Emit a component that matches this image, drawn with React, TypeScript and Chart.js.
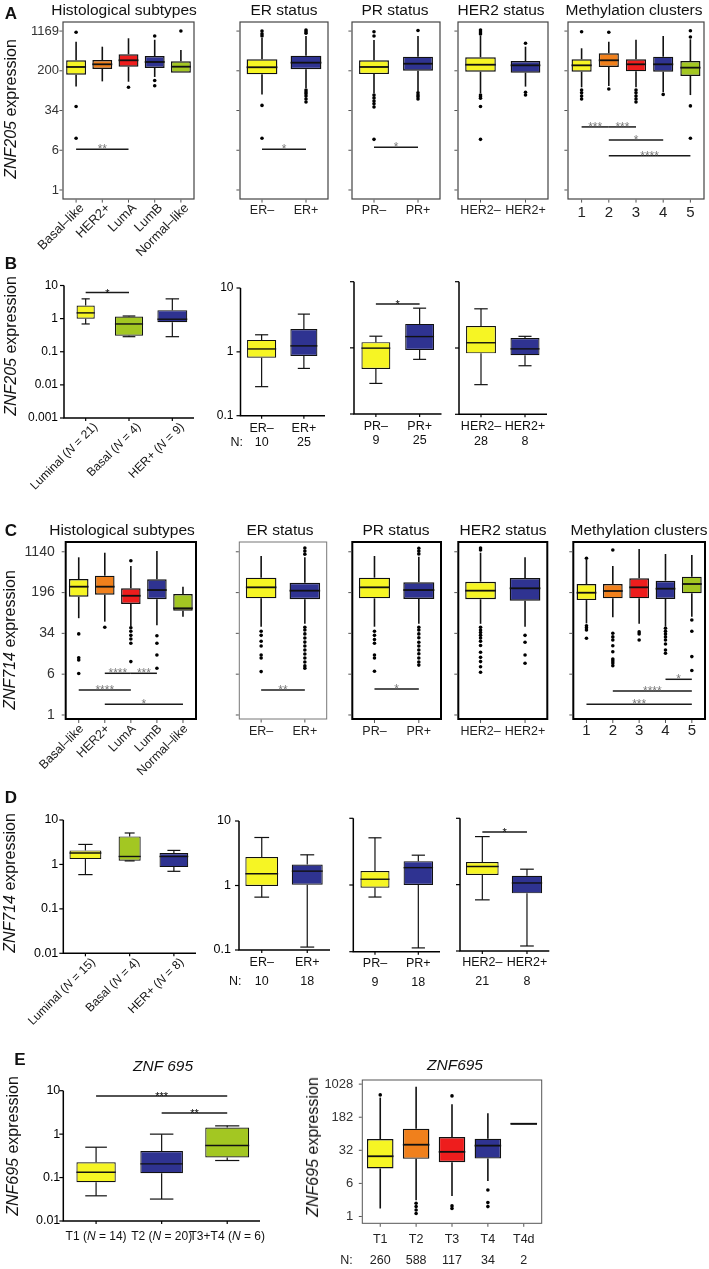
import React, { useEffect, useRef } from 'react';
import { Chart, registerables } from 'chart.js';

Chart.register(...registerables);

const FONT = "'Liberation Sans', Arial, Helvetica, sans-serif";

const YELLOW = '#F6F524';
const ORANGE = '#F0801C';
const RED = '#EE1D1D';
const BLUE = '#2F3391';
const GREEN = '#A3C722';

// ---------------- DATA ----------------
// stats = [min, q1, median, q3, max]
const erCategories = ['ER–', 'ER+'];
const prCategories = ['PR–', 'PR+'];
const her2Categories = ['HER2–', 'HER2+'];
const methCategories = ['1', '2', '3', '4', '5'];
const histCategories = ['Basal–like', 'HER2+', 'LumA', 'LumB', 'Normal–like'];

// A: ZNF205 (TCGA)
const aTicks = [1, 5.85, 34.2, 200, 1169];
const aTickLabels = ['1', '6', '34', '200', '1169'];
const aHistStats = [[99, 168, 237, 319, 729], [125, 217, 267, 323, 584], [123, 240, 319, 417, 849], [152, 227, 296, 386, 794], [184, 184, 240, 305, 505]];
const aHistOutliers = [[1107, 41, 10], [], [96], [940, 130, 103], [1170]];
const aHistSig = [{ from: 0, to: 2, y: 6.1, label: '**' }];
const aErStats = [[70, 171, 234, 334, 860], [93, 214, 287, 392, 940]];
const aErOutliers = [[1170, 1030, 940, 43, 10], [1220, 1140, 1060, 85, 78, 72, 65, 57, 50]];
const aErSig = [{ from: 0, to: 1, y: 6.1, label: '*' }];
const aPrStats = [[74, 173, 237, 319, 787], [79, 201, 274, 374, 940]];
const aPrOutliers = [[1137, 940, 68, 60, 52, 46, 40, 9.5], [1200, 75, 68, 63, 57]];
const aPrSig = [{ from: 0, to: 1, y: 6.7, label: '*' }];
const aHer2Stats = [[74, 192, 262, 365, 953], [99, 184, 255, 309, 584]];
const aHer2Outliers = [[1220, 1120, 1030, 68, 63, 59, 41, 9.5], [679, 77, 68]];
const aMethStats = [[96, 192, 255, 334, 544], [102, 237, 319, 436, 729], [96, 195, 267, 334, 794], [78, 192, 267, 374, 940], [68, 159, 230, 309, 811]];
const aMethOutliers = [[1137, 85, 75, 65, 57], [1107, 89], [85, 75, 65, 57, 50], [70], [1190, 900, 42, 10]];
const aMethSig = [
  { from: 0, to: 1, y: 16.5, label: '***' },
  { from: 1, to: 2, y: 16.5, label: '***' },
  { from: 1, to: 3, y: 9.2, label: '*' },
  { from: 1, to: 4, y: 4.6, label: '****' },
];

// B: ZNF205 (cohort)
const logTicks5 = [0.001, 0.01, 0.1, 1, 10];
const logTickLabels5 = ['0.001', '0.01', '0.1', '1', '10'];
const logTicks4 = [0.01, 0.1, 1, 10];
const logTickLabels4 = ['0.01', '0.1', '1', '10'];
const logTicks3 = [0.1, 1, 10];
const logTickLabels3 = ['0.1', '1', '10'];
const bSubtypeCategories = ['Luminal (_N_ = 21)', 'Basal (_N_ = 4)', 'HER+ (_N_ = 9)'];
const bSubtypeStats = [[0.69, 1.0, 1.49, 2.48, 3.95], [0.285, 0.305, 0.69, 1.15, 1.2], [0.285, 0.78, 0.96, 1.8, 3.95]];
const bSubtypeSig = [{ from: 0, to: 1, y: 6.1, label: '*' }];
const bErStats = [[0.285, 0.81, 1.11, 1.54, 1.85], [0.55, 0.86, 1.24, 2.27, 3.9]];
const bErN = [10, 25];
const bPrStats = [[0.29, 0.48, 0.99, 1.22, 1.5], [0.67, 0.93, 1.48, 2.3, 3.98]];
const bPrN = [9, 25];
const bPrSig = [{ from: 0, to: 1, y: 4.6, label: '*' }];
const bHer2Stats = [[0.28, 0.83, 1.2, 2.15, 3.9], [0.54, 0.78, 0.97, 1.41, 1.5]];
const bHer2N = [28, 8];

// C: ZNF714 (TCGA)
const cTicks = [1, 5.81, 33.8, 196, 1140];
const cTickLabels = ['1', '6', '34', '196', '1140'];
const cHistStats = [[65, 164, 253, 352, 898], [56, 179, 253, 406, 1094], [45, 120, 171, 236, 617], [48, 147, 219, 348, 1178], [69, 90, 99.6, 184, 253]];
const cHistOutliers = [[33, 11.8, 10.7, 6.0], [44], [776, 43, 37, 31, 26.5, 22, 10], [30.5, 22, 13.3, 7.5], []];
const cHistSig = [
  { from: 1, to: 2, y: 6.04, label: '****' },
  { from: 2, to: 3, y: 6.04, label: '***' },
  { from: 0, to: 2, y: 2.94, label: '****' },
  { from: 1, to: 4, y: 1.585, label: '*' },
];
const cErStats = [[45, 153, 246, 373, 950], [51, 147, 213, 300, 898]];
const cErOutliers = [[37, 31, 24, 19.6, 13.3, 11.7, 6.5], [1340, 1178, 1030, 44, 39, 33, 27.7, 23.2, 19.6, 16.5, 13.9, 11.7, 9.8, 8.3, 7.5]];
const cErSig = [{ from: 0, to: 1, y: 2.94, label: '**' }];
const cPrStats = [[45, 153, 246, 373, 950], [51, 149, 219, 305, 922]];
const cPrOutliers = [[37, 31, 26, 22, 13.3, 11.7, 6.6], [1330, 1180, 1040, 44, 39, 33, 28, 23, 19.6, 16.5, 14, 11.7, 9.8, 8.6]];
const cPrSig = [{ from: 0, to: 1, y: 3.07, label: '*' }];
const cHer2Stats = [[51, 147, 213, 313, 1094], [45, 138, 236, 368, 898]];
const cHer2Outliers = [[1340, 1230, 44, 39, 35, 31, 27.7, 24, 20, 15, 12, 10, 8, 6.3], [31, 23, 13.3, 9.3]];
const cMethStats = [[52, 142, 195, 284, 800], [67.6, 153, 210, 284, 617], [51, 153, 246, 363, 1284], [45, 149, 232, 327, 1035], [69, 190, 284, 389, 991]];
const cMethOutliers = [[860, 47, 43, 39, 27.3], [1230, 34, 29, 25.4, 19.8, 15.3, 11.2, 10.3, 9.4, 8.4], [36, 33, 25.4], [42, 37, 33, 29, 25.4, 21.3, 16.5, 14.3], [60, 37, 12.4, 6.8]];
const cMethSig = [
  { from: 3, to: 4, y: 4.66, label: '*' },
  { from: 1, to: 4, y: 2.81, label: '****' },
  { from: 0, to: 4, y: 1.585, label: '***' },
];

// D: ZNF714 (cohort)
const dSubtypeCategories = ['Luminal (_N_ = 15)', 'Basal (_N_ = 4)', 'HER+ (_N_ = 8)'];
const dSubtypeStats = [[0.59, 1.32, 1.81, 2.07, 2.82], [1.2, 1.21, 1.51, 4.27, 5.1], [0.7, 0.87, 1.51, 1.81, 2.07]];
const dErStats = [[0.66, 0.98, 1.52, 2.76, 5.55], [0.111, 1.03, 1.67, 2.12, 2.99]];
const dErN = [10, 18];
const dPrStats = [[0.66, 0.91, 1.22, 1.62, 5.1], [0.114, 1.0, 1.82, 2.28, 2.8]];
const dPrN = [9, 18];
const dHer2Stats = [[0.59, 1.4, 1.88, 2.2, 5.3], [0.119, 0.74, 1.06, 1.36, 1.71]];
const dHer2N = [21, 8];
const dHer2Sig = [{ from: 0, to: 1, y: 6.2, label: '*' }];

// E: ZNF695
const eStageCategories = ['T1 (_N_ = 14)', 'T2 (_N_ = 20)', 'T3+T4 (_N_ = 6)'];
const eStageStats = [[0.038, 0.078, 0.133, 0.226, 0.5], [0.032, 0.126, 0.207, 0.41, 1.0], [0.247, 0.289, 0.546, 1.42, 1.55]];
const eStageSig = [{ from: 0, to: 2, y: 7.6, label: '***' }, { from: 1, to: 2, y: 3.05, label: '**' }];
const eTcgaCategories = ['T1', 'T2', 'T3', 'T4', 'T4d'];
const eTcgaStats = [[1.52, 12.4, 23.5, 58, 508], [2.34, 20.5, 43, 99.5, 901], [2.92, 17.2, 29.6, 64.5, 360], [6.4, 20.8, 41, 59, 225], [123, 123, 129, 135, 135]];
const eTcgaOutliers = [[585], [2.0, 1.68, 1.41, 1.17], [555, 1.74, 1.52], [4.0, 2.07, 1.68], []];
const eTcgaN = [260, 588, 117, 34, 2];
const eTicks = [1, 5.66, 32.1, 181.5, 1028];
const eTickLabels = ['1', '6', '32', '182', '1028'];

// ---------------- PANEL LAYOUT / STYLE ----------------
type Sig = { from: number; to: number; y: number; label: string };
type Panel = {
  id: string;
  rect: number[];
  yMin: number;
  yMax: number;
  ticks: number[];
  tickLabels: string[] | null;
  categories: string[];
  stats: number[][];
  outliers?: number[][];
  nValues?: number[];
  sig?: Sig[];
  colors: string[];
  widths: number[];
  kind: 'gg' | 'sp';
  frameColor?: string;
  frameWidth?: number;
  xMode?: 'plain' | 'rotated';
  xLabelSize?: number;
  xLabelDy?: number;
  rotDx?: number;
  rotDy?: number;
  tickLabelSize?: number;
  tickLabelGap?: number;
  nDy?: number;
  nDx?: number;
  capFrac?: number;
};

const fill = (n: number, v: number) => Array.from({ length: n }, () => v);
const A_MIN = 0.67, A_MAX = 1750;
const C_MIN = 0.841, C_MAX = 1738;

const panels: Panel[] = [
  // Row A
  { id: 'a1', rect: [63, 22, 194, 199], yMin: A_MIN, yMax: A_MAX, ticks: aTicks, tickLabels: aTickLabels, categories: histCategories, stats: aHistStats, outliers: aHistOutliers, sig: aHistSig, colors: [YELLOW, ORANGE, RED, BLUE, GREEN], widths: fill(5, 0.76), kind: 'gg', xMode: 'rotated', rotDx: 6, rotDy: 7, xLabelSize: 13, tickLabelSize: 13, tickLabelGap: 4 },
  { id: 'a2', rect: [240, 22, 328, 199], yMin: A_MIN, yMax: A_MAX, ticks: aTicks, tickLabels: null, categories: erCategories, stats: aErStats, outliers: aErOutliers, sig: aErSig, colors: [YELLOW, BLUE], widths: [0.7, 0.7], kind: 'gg', xLabelDy: 12 },
  { id: 'a3', rect: [352, 22, 440, 199], yMin: A_MIN, yMax: A_MAX, ticks: aTicks, tickLabels: null, categories: prCategories, stats: aPrStats, outliers: aPrOutliers, sig: aPrSig, colors: [YELLOW, BLUE], widths: [0.68, 0.68], kind: 'gg', xLabelDy: 12 },
  { id: 'a4', rect: [458, 22, 548, 199], yMin: A_MIN, yMax: A_MAX, ticks: aTicks, tickLabels: null, categories: her2Categories, stats: aHer2Stats, outliers: aHer2Outliers, colors: [YELLOW, BLUE], widths: [0.68, 0.66], kind: 'gg', xLabelDy: 12 },
  { id: 'a5', rect: [568, 22, 704, 199], yMin: A_MIN, yMax: A_MAX, ticks: aTicks, tickLabels: null, categories: methCategories, stats: aMethStats, outliers: aMethOutliers, sig: aMethSig, colors: [YELLOW, ORANGE, RED, BLUE, GREEN], widths: fill(5, 0.74), kind: 'gg', xLabelSize: 15, xLabelDy: 14 },
  // Row B
  { id: 'b1', rect: [64, 285.5, 194, 418], yMin: 0.001, yMax: 10, ticks: logTicks5, tickLabels: logTickLabels5, categories: bSubtypeCategories, stats: bSubtypeStats, sig: bSubtypeSig, colors: [YELLOW, GREEN, BLUE], widths: [0.42, 0.65, 0.69], kind: 'sp', xMode: 'rotated', rotDx: 10, rotDy: 7, xLabelSize: 12, tickLabelSize: 12, tickLabelGap: 6 },
  { id: 'b2', rect: [240.5, 288, 325, 415.7], yMin: 0.1, yMax: 10, ticks: logTicks3, tickLabels: logTickLabels3, categories: erCategories, stats: bErStats, nValues: bErN, colors: [YELLOW, BLUE], widths: [0.69, 0.64], kind: 'sp', tickLabelSize: 12, tickLabelGap: 7, xLabelDy: 12.5, nDy: 27, nDx: -10 },
  { id: 'b3', rect: [354, 281.7, 441.5, 414], yMin: 0.1, yMax: 10, ticks: logTicks3, tickLabels: null, categories: prCategories, stats: bPrStats, nValues: bPrN, sig: bPrSig, colors: [YELLOW, BLUE], widths: [0.66, 0.66], kind: 'sp', xLabelDy: 12.5, nDy: 27 },
  { id: 'b4', rect: [459, 281.7, 547, 414.3], yMin: 0.1, yMax: 10, ticks: logTicks3, tickLabels: null, categories: her2Categories, stats: bHer2Stats, nValues: bHer2N, colors: [YELLOW, BLUE], widths: [0.68, 0.66], kind: 'sp', xLabelDy: 12.5, nDy: 27 },
  // Row C
  { id: 'c1', rect: [65.7, 542, 196, 719], yMin: C_MIN, yMax: C_MAX, ticks: cTicks, tickLabels: cTickLabels, categories: histCategories, stats: cHistStats, outliers: cHistOutliers, sig: cHistSig, colors: [YELLOW, ORANGE, RED, BLUE, GREEN], widths: fill(5, 0.75), kind: 'gg', frameColor: '#000', frameWidth: 2, xMode: 'rotated', rotDx: 3, rotDy: 8, xLabelSize: 12.5, tickLabelSize: 14, tickLabelGap: 11 },
  { id: 'c2', rect: [239.3, 542, 326.7, 719], yMin: C_MIN, yMax: C_MAX, ticks: cTicks, tickLabels: null, categories: erCategories, stats: cErStats, outliers: cErOutliers, sig: cErSig, colors: [YELLOW, BLUE], widths: [0.7, 0.7], kind: 'gg', frameColor: '#777', frameWidth: 1, xLabelDy: 13 },
  { id: 'c3', rect: [352.3, 542, 441, 719], yMin: C_MIN, yMax: C_MAX, ticks: cTicks, tickLabels: null, categories: prCategories, stats: cPrStats, outliers: cPrOutliers, sig: cPrSig, colors: [YELLOW, BLUE], widths: [0.7, 0.7], kind: 'gg', frameColor: '#000', frameWidth: 2, xLabelDy: 13 },
  { id: 'c4', rect: [458.3, 542, 547.3, 719], yMin: C_MIN, yMax: C_MAX, ticks: cTicks, tickLabels: null, categories: her2Categories, stats: cHer2Stats, outliers: cHer2Outliers, colors: [YELLOW, BLUE], widths: [0.69, 0.69], kind: 'gg', frameColor: '#000', frameWidth: 2, xLabelDy: 13 },
  { id: 'c5', rect: [573.3, 542, 706, 719], yMin: C_MIN, yMax: C_MAX, ticks: cTicks, tickLabels: null, categories: methCategories, stats: cMethStats, outliers: cMethOutliers, sig: cMethSig, colors: [YELLOW, ORANGE, RED, BLUE, GREEN], widths: fill(5, 0.75), kind: 'gg', frameColor: '#000', frameWidth: 2, xLabelSize: 15, xLabelDy: 12 },
  // Row D
  { id: 'd1', rect: [63.3, 820, 196, 953.3], yMin: 0.01, yMax: 10, ticks: logTicks4, tickLabels: logTickLabels4, categories: dSubtypeCategories, stats: dSubtypeStats, colors: [YELLOW, GREEN, BLUE], widths: [0.72, 0.5, 0.65], kind: 'sp', xMode: 'rotated', rotDx: 8, rotDy: 7, xLabelSize: 12, tickLabelSize: 12.5, tickLabelGap: 5 },
  { id: 'd2', rect: [239, 821, 330, 950], yMin: 0.1, yMax: 10, ticks: logTicks3, tickLabels: logTickLabels3, categories: erCategories, stats: dErStats, nValues: dErN, colors: [YELLOW, BLUE], widths: [0.72, 0.68], kind: 'sp', tickLabelSize: 12.5, tickLabelGap: 8, xLabelDy: 13, nDy: 31.5, nDx: -10 },
  { id: 'd3', rect: [353.3, 818.3, 440, 951.7], yMin: 0.1, yMax: 10, ticks: logTicks3, tickLabels: null, categories: prCategories, stats: dPrStats, nValues: dPrN, colors: [YELLOW, BLUE], widths: [0.67, 0.68], kind: 'sp', xLabelDy: 12, nDy: 30.5 },
  { id: 'd4', rect: [460, 818.3, 549.3, 951], yMin: 0.1, yMax: 10, ticks: logTicks3, tickLabels: null, categories: her2Categories, stats: dHer2Stats, nValues: dHer2N, sig: dHer2Sig, colors: [YELLOW, BLUE], widths: [0.73, 0.68], kind: 'sp', xLabelDy: 12, nDy: 31 },
  // Row E
  { id: 'e1', rect: [63.3, 1090.7, 260, 1221], yMin: 0.01, yMax: 10, ticks: logTicks4, tickLabels: logTickLabels4, categories: eStageCategories, stats: eStageStats, sig: eStageSig, colors: [YELLOW, BLUE, GREEN], widths: [0.6, 0.65, 0.67], kind: 'sp', xLabelSize: 12, xLabelDy: 15.7, tickLabelSize: 12.5, tickLabelGap: 3, capFrac: 0.55 },
  { id: 'e2', rect: [362.3, 1080, 541.7, 1223.3], yMin: 0.732, yMax: 1277, ticks: eTicks, tickLabels: eTickLabels, categories: eTcgaCategories, stats: eTcgaStats, outliers: eTcgaOutliers, nValues: eTcgaN, colors: [YELLOW, ORANGE, RED, BLUE, '#000'], widths: fill(5, 0.74), kind: 'gg', frameColor: '#555', frameWidth: 1, xLabelSize: 12.5, xLabelDy: 16, tickLabelSize: 13, tickLabelGap: 9, nDy: 37.7, nDx: -22 },
];

// ---------------- DRAW HELPERS ----------------
const fontOf = (italic: boolean, size: number, bold = false) => `${italic ? 'italic ' : ''}${bold ? 'bold ' : ''}${size}px ${FONT}`;

function drawRich(ctx: CanvasRenderingContext2D, text: string, x: number, y: number, align: string, size: number, color: string) {
  const parts = text.split('_').map((t, k) => ({ t, it: k % 2 === 1 })).filter((q) => q.t.length > 0);
  const widths = parts.map((q) => {
    ctx.font = fontOf(q.it, size);
    return ctx.measureText(q.t).width;
  });
  const total = widths.reduce((a, b) => a + b, 0);
  let start = align === 'center' ? x - total / 2 : align === 'right' ? x - total : x;
  ctx.textAlign = 'left';
  ctx.textBaseline = 'middle';
  ctx.fillStyle = color;
  parts.forEach((q, k) => {
    ctx.font = fontOf(q.it, size);
    ctx.fillText(q.t, start, y);
    start += widths[k];
  });
}

function seg(ctx: CanvasRenderingContext2D, x1: number, y1: number, x2: number, y2: number) {
  ctx.beginPath();
  ctx.moveTo(x1, y1);
  ctx.lineTo(x2, y2);
  ctx.stroke();
}

function makePlugin(p: Panel) {
  const gg = p.kind === 'gg';
  return {
    id: 'boxDecor',
    afterDatasetsDraw(chart: any) {
      const ctx = chart.ctx as CanvasRenderingContext2D;
      const xs = chart.scales.x;
      const ys = chart.scales.y;
      const n = p.categories.length;
      const catW = (chart.chartArea.right - chart.chartArea.left) / n;
      ctx.save();
      ctx.strokeStyle = '#111';
      p.stats.forEach((s, i) => {
        const x = xs.getPixelForValue(i);
        const bw = catW * p.widths[i];
        const [mn, q1, md, q3, mx] = s;
        ctx.lineWidth = gg ? 1.6 : 1.2;
        if (mx > q3) seg(ctx, x, ys.getPixelForValue(q3), x, ys.getPixelForValue(mx));
        if (mn < q1) seg(ctx, x, ys.getPixelForValue(q1), x, ys.getPixelForValue(mn));
        if (!gg) {
          const cw = bw * (p.capFrac ?? 0.45);
          seg(ctx, x - cw / 2, ys.getPixelForValue(mx), x + cw / 2, ys.getPixelForValue(mx));
          seg(ctx, x - cw / 2, ys.getPixelForValue(mn), x + cw / 2, ys.getPixelForValue(mn));
        }
        ctx.lineWidth = gg ? 1.8 : 1.4;
        seg(ctx, x - bw / 2, ys.getPixelForValue(md), x + bw / 2, ys.getPixelForValue(md));
      });
      ctx.restore();
    },
    afterDraw(chart: any) {
      const ctx = chart.ctx as CanvasRenderingContext2D;
      const xs = chart.scales.x;
      const ys = chart.scales.y;
      const { left: l, right: r, top: t, bottom: b } = chart.chartArea;
      ctx.save();
      ctx.lineCap = 'butt';
      if (gg) {
        const fw = p.frameWidth ?? 1.2;
        ctx.strokeStyle = p.frameColor ?? '#444';
        ctx.lineWidth = fw;
        ctx.strokeRect(l, t, r - l, b - t);
        ctx.strokeStyle = '#555';
        ctx.lineWidth = 1;
        p.ticks.forEach((v) => {
          const y = ys.getPixelForValue(v);
          seg(ctx, l - fw / 2 - 3, y, l - fw / 2, y);
        });
        p.categories.forEach((_, i) => {
          const x = xs.getPixelForValue(i);
          seg(ctx, x, b + fw / 2, x, b + fw / 2 + 3);
        });
      } else {
        ctx.strokeStyle = '#000';
        ctx.lineWidth = 1.5;
        ctx.beginPath();
        ctx.moveTo(l, t);
        ctx.lineTo(l, b);
        ctx.lineTo(r, b);
        ctx.stroke();
        ctx.lineWidth = 1.2;
        p.ticks.forEach((v) => {
          const y = ys.getPixelForValue(v);
          seg(ctx, l - 4, y, l, y);
        });
        p.categories.forEach((_, i) => {
          const x = xs.getPixelForValue(i);
          seg(ctx, x, b, x, b + 3);
        });
      }
      // y tick labels
      if (p.tickLabels) {
        ctx.font = fontOf(false, p.tickLabelSize ?? 13);
        ctx.fillStyle = gg ? '#333' : '#000';
        ctx.textAlign = 'right';
        ctx.textBaseline = 'middle';
        p.ticks.forEach((v, k) => {
          ctx.fillText(p.tickLabels![k], l - (p.tickLabelGap ?? 4), ys.getPixelForValue(v));
        });
      }
      // x labels
      const labelColor = gg ? '#222' : '#111';
      const xSize = p.xLabelSize ?? 12.5;
      p.categories.forEach((c, i) => {
        const x = xs.getPixelForValue(i);
        if (p.xMode === 'rotated') {
          ctx.save();
          ctx.translate(x + (p.rotDx ?? 6), b + (p.rotDy ?? 6));
          ctx.rotate(-Math.PI / 4);
          drawRich(ctx, c, 0, 0, 'right', xSize, labelColor);
          ctx.restore();
        } else {
          drawRich(ctx, c, x, b + (p.xLabelDy ?? 12), 'center', xSize, labelColor);
        }
      });
      // N row
      if (p.nValues) {
        const ny = b + (p.nDy ?? 27);
        if (p.nDx !== undefined) drawRich(ctx, 'N:', l + p.nDx, ny, 'left', 12.5, labelColor);
        p.nValues.forEach((v, i) => drawRich(ctx, String(v), xs.getPixelForValue(i), ny, 'center', 12.5, labelColor));
      }
      // significance bars
      (p.sig ?? []).forEach((s) => {
        const x1 = xs.getPixelForValue(s.from);
        const x2 = xs.getPixelForValue(s.to);
        const y = ys.getPixelForValue(s.y);
        ctx.strokeStyle = '#1a1a1a';
        ctx.lineWidth = 1.5;
        seg(ctx, x1, y, x2, y);
        ctx.font = fontOf(false, gg ? 12 : 11);
        ctx.fillStyle = gg ? '#7a7a7a' : '#000';
        ctx.textAlign = 'center';
        ctx.textBaseline = 'alphabetic';
        ctx.fillText(s.label, (x1 + x2) / 2, y + 4);
      });
      ctx.restore();
    },
  };
}

function buildConfig(p: Panel, pad: any): any {
  const gg = p.kind === 'gg';
  const boxSets = p.stats.map((s, i) => ({
    type: 'bar',
    data: p.categories.map((_, j) => (j === i ? [s[1], s[3]] : null)),
    backgroundColor: p.colors[i],
    borderColor: '#111',
    borderWidth: gg ? 1.4 : 1.2,
    borderSkipped: false,
    barPercentage: p.widths[i],
    categoryPercentage: 1,
    grouped: false,
    order: 2,
  }));
  const points: any[] = [];
  (p.outliers ?? []).forEach((arr, i) => arr.forEach((v) => points.push({ x: p.categories[i], y: v })));
  return {
    type: 'bar',
    data: {
      labels: p.categories,
      datasets: [
        ...boxSets,
        { type: 'scatter', data: points, pointRadius: 1.8, pointBackgroundColor: '#000', pointBorderWidth: 0, clip: false, order: 1 },
      ],
    },
    options: {
      animation: false,
      responsive: false,
      maintainAspectRatio: false,
      devicePixelRatio: 1,
      events: [],
      layout: { padding: pad },
      plugins: { legend: { display: false }, tooltip: { enabled: false }, title: { display: false } },
      scales: {
        x: { type: 'category', display: false, offset: true },
        y: { type: 'logarithmic', display: false, min: p.yMin, max: p.yMax },
      },
    },
    plugins: [makePlugin(p)],
  };
}

function BoxPanel({ p }: { p: Panel }) {
  const ref = useRef<HTMLCanvasElement | null>(null);
  const [l, t, r, b] = p.rect;
  const cl = Math.max(0, Math.floor(l - 75));
  const ct = Math.max(0, Math.floor(t - 12));
  const cr = Math.min(709, Math.ceil(r + 5));
  const cb = Math.min(1269, Math.ceil(b + 95));
  const w = cr - cl;
  const h = cb - ct;
  const pad = { left: l - cl, top: t - ct, right: cr - r, bottom: cb - b };
  useEffect(() => {
    if (!ref.current) return;
    const chart = new Chart(ref.current, buildConfig(p, pad));
    return () => chart.destroy();
  }, []);
  return <canvas ref={ref} width={w} height={h} style={{ position: 'absolute', left: cl, top: ct, width: w, height: h }} />;
}

function Rich({ text }: { text: string }) {
  return (
    <>
      {text.split('_').map((t, k) => (k % 2 === 1 ? <i key={k}>{t}</i> : <span key={k}>{t}</span>))}
    </>
  );
}

const panelLetters: [string, number, number][] = [['A', 11, 13], ['B', 11, 263], ['C', 11, 530], ['D', 11, 797], ['E', 20, 1059]];
const panelTitles: [string, number, number][] = [
  ['Histological subtypes', 124, 10], ['ER status', 284, 10], ['PR status', 395, 10], ['HER2 status', 501, 10], ['Methylation clusters', 634, 10],
  ['Histological subtypes', 122, 530], ['ER status', 280, 530], ['PR status', 396, 530], ['HER2 status', 503, 530], ['Methylation clusters', 639, 530],
  ['_ZNF 695_', 163, 1066], ['_ZNF695_', 455, 1065],
];
const yTitles: [string, number, number][] = [
  ['_ZNF205_ expression', 11, 109], ['_ZNF205_ expression', 11, 346], ['_ZNF714_ expression', 10, 640],
  ['_ZNF714_ expression', 10, 883], ['_ZNF695_ expression', 13, 1146], ['_ZNF695_ expression', 313, 1147],
];

export default function App() {
  const center: React.CSSProperties = { position: 'absolute', transform: 'translate(-50%, -50%)', whiteSpace: 'nowrap', fontFamily: FONT, color: '#111', lineHeight: 1 };
  return (
    <div style={{ position: 'absolute', left: 0, top: 0, width: 709, height: 1269, overflow: 'hidden', background: '#fff' }}>
      {panels.map((p) => (
        <BoxPanel key={p.id} p={p} />
      ))}
      {panelLetters.map(([s, x, y]) => (
        <div key={s} style={{ ...center, left: x, top: y, fontSize: 17, fontWeight: 'bold' }}>{s}</div>
      ))}
      {panelTitles.map(([s, x, y], k) => (
        <div key={'t' + k} style={{ ...center, left: x, top: y, fontSize: 15.5 }}><Rich text={s} /></div>
      ))}
      {yTitles.map(([s, x, y], k) => (
        <div key={'y' + k} style={{ ...center, left: x, top: y, fontSize: 16, transform: 'translate(-50%, -50%) rotate(-90deg)' }}><Rich text={s} /></div>
      ))}
    </div>
  );
}
